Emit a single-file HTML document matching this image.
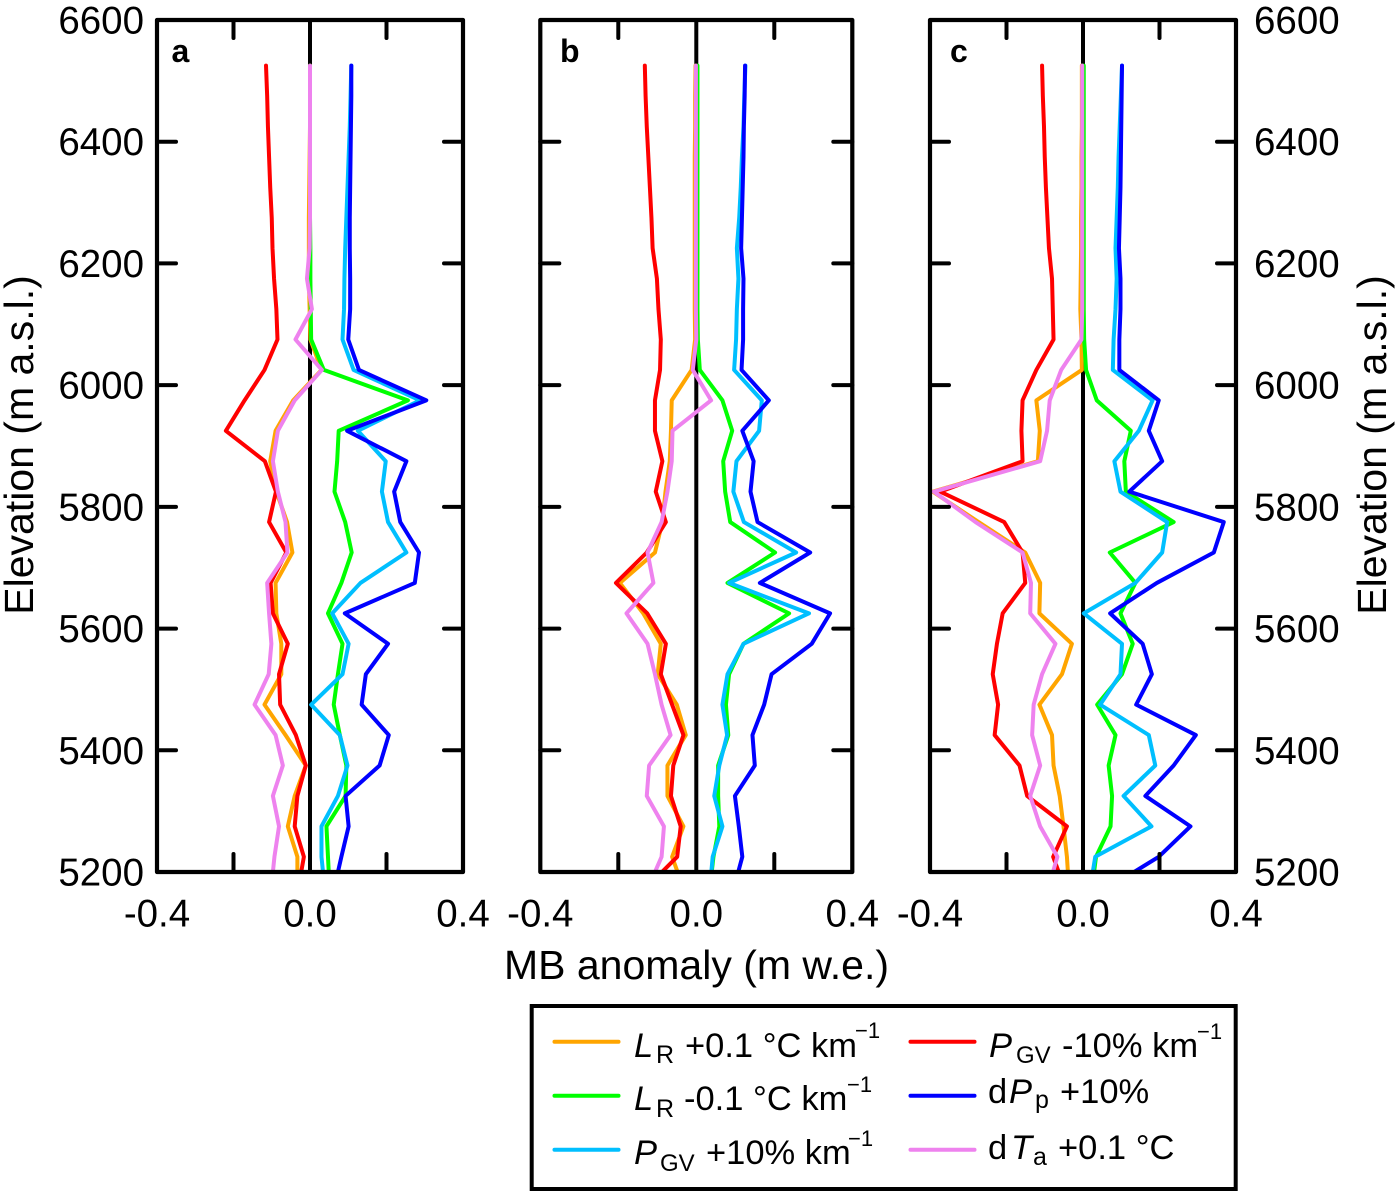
<!DOCTYPE html>
<html lang="en">
<head>
<meta charset="utf-8">
<title>MB anomaly by elevation</title>
<style>
html,body{margin:0;padding:0;background:#fff;}
svg{display:block;}
text{font-family:"Liberation Sans",Arial,sans-serif;fill:#000;}
</style>
</head>
<body>
<svg id="chart" xmlns="http://www.w3.org/2000/svg" width="1400" height="1197" viewBox="0 0 1400 1197">
  <rect x="0" y="0" width="1400" height="1197" fill="#fff"/>
  <g id="plots"></g>
  <text transform="translate(33,445) rotate(-90)" font-size="41" text-anchor="middle">Elevation (m a.s.l.)</text>
  <text transform="translate(1386,445) rotate(-90)" font-size="41" text-anchor="middle">Elevation (m a.s.l.)</text>
  <text x="696.5" y="979" font-size="41" text-anchor="middle">MB anomaly (m w.e.)</text>
  <g>
    <rect x="531.7" y="1006" width="704" height="183" fill="#fff" stroke="#000" stroke-width="4"/>
    <line x1="554.5" x2="618.5" y1="1041.7" y2="1041.7" stroke="#ffa500" stroke-width="4" stroke-linecap="round"/>
    <line x1="554.5" x2="618.5" y1="1095.7" y2="1095.7" stroke="#00ff00" stroke-width="4" stroke-linecap="round"/>
    <line x1="554.5" x2="618.5" y1="1149.7" y2="1149.7" stroke="#00bfff" stroke-width="4" stroke-linecap="round"/>
    <line x1="910.5" x2="974.5" y1="1041.7" y2="1041.7" stroke="#ff0000" stroke-width="4" stroke-linecap="round"/>
    <line x1="910.5" x2="974.5" y1="1095.7" y2="1095.7" stroke="#0000ff" stroke-width="4" stroke-linecap="round"/>
    <line x1="910.5" x2="974.5" y1="1149.7" y2="1149.7" stroke="#ee82ee" stroke-width="4" stroke-linecap="round"/>

    <text font-size="34.5"><tspan x="634" y="1057" font-style="italic">L</tspan><tspan x="656" y="1063" font-size="25">R</tspan><tspan x="685" y="1057">+0.1 °C km</tspan><tspan x="855" y="1038" font-size="22">−1</tspan></text>
    <text font-size="34.5"><tspan x="634" y="1110" font-style="italic">L</tspan><tspan x="656" y="1117" font-size="25">R</tspan><tspan x="684" y="1110">-0.1 °C km</tspan><tspan x="847" y="1092" font-size="22">−1</tspan></text>
    <text font-size="34.5"><tspan x="634" y="1164" font-style="italic">P</tspan><tspan x="660" y="1171" font-size="24">GV</tspan><tspan x="706" y="1164">+10% km</tspan><tspan x="848" y="1146" font-size="22">−1</tspan></text>
    <text font-size="34.5"><tspan x="989" y="1057" font-style="italic">P</tspan><tspan x="1016" y="1063" font-size="24">GV</tspan><tspan x="1062" y="1057">-10% km</tspan><tspan x="1197" y="1039" font-size="22">−1</tspan></text>
    <text font-size="34.5"><tspan x="988" y="1103">d</tspan><tspan x="1009" y="1103" font-style="italic">P</tspan><tspan x="1035" y="1108" font-size="25">p</tspan><tspan x="1060" y="1103">+10%</tspan></text>
    <text font-size="34.5"><tspan x="988" y="1159">d</tspan><tspan x="1011" y="1159" font-style="italic">T</tspan><tspan x="1033" y="1165" font-size="25">a</tspan><tspan x="1058" y="1159">+0.1 °C</tspan></text>
  </g>
</svg>
<script>
var elevations = [6525,6475,6425,6375,6325,6275,6225,6175,6125,6075,6025,5975,5925,5875,5825,5775,5725,5675,5625,5575,5525,5475,5425,5375,5325,5275,5225,5175];
var xTickValues = [-0.4,-0.2,0,0.2,0.4];
var xTickLabels = ["-0.4","","0.0","","0.4"];
var yTickValues = [6600,6400,6200,6000,5800,5600,5400,5200];
var yTickLabels = ["6600","6400","6200","6000","5800","5600","5400","5200"];
var panelLetters = ["a","b","c"];
var seriesNames = ["lr-plus","lr-minus","pgv-plus","pgv-minus","dpp-plus","dta-plus"];

var aLrPlus = [0,0,0,-.001,-.002,-.003,-.003,-.003,-.001,.001,.030,-.044,-.090,-.104,-.088,-.060,-.046,-.090,-.088,-.075,-.075,-.119,-.064,-.011,-.040,-.058,-.033,-.033];
var aLrMinus = [0,0,0,0,0,0,.001,.001,.002,.003,.036,.256,.075,.071,.064,.092,.109,.082,.047,.085,.073,.062,.078,.095,.093,.043,.047,.051];
var aPgvPlus = [.108,.106,.104,.101,.098,.095,.092,.090,.089,.085,.114,.287,.125,.198,.188,.204,.252,.132,.058,.101,.085,.003,.078,.098,.073,.030,.030,.038];
var aPgvMinus = [-.115,-.112,-.110,-.107,-.104,-.100,-.098,-.094,-.088,-.085,-.119,-.171,-.220,-.118,-.089,-.107,-.062,-.103,-.097,-.058,-.081,-.078,-.037,-.011,-.033,-.040,-.016,-.030];
var aDpp = [.108,.108,.107,.106,.105,.104,.104,.105,.105,.100,.128,.304,.097,.252,.220,.236,.285,.274,.091,.204,.146,.135,.206,.182,.093,.101,.082,.064];
var aDta = [0,0,0,0,0,0,-.001,-.008,.005,-.038,.031,-.040,-.084,-.097,-.084,-.064,-.059,-.112,-.107,-.101,-.108,-.145,-.090,-.071,-.097,-.081,-.093,-.101];

var bLrPlus = [-.002,-.003,-.003,-.004,-.004,-.004,-.004,-.004,-.004,-.003,-.012,-.063,-.065,-.068,-.079,-.087,-.106,-.196,-.136,-.091,-.099,-.050,-.027,-.074,-.074,-.033,-.062,-.034];
var bLrMinus = [.003,.003,.003,.003,.003,.003,.003,.003,.003,.004,.009,.067,.092,.069,.074,.087,.202,.080,.238,.121,.084,.076,.082,.056,.056,.059,.044,.035];
var bPgvPlus = [.126,.123,.121,.117,.114,.110,.104,.108,.104,.102,.097,.168,.161,.103,.095,.122,.256,.084,.289,.121,.080,.067,.079,.059,.046,.067,.042,.035];
var bPgvMinus = [-.132,-.130,-.127,-.123,-.119,-.115,-.112,-.101,-.097,-.091,-.093,-.106,-.106,-.087,-.104,-.078,-.127,-.206,-.126,-.078,-.091,-.062,-.033,-.059,-.065,-.040,-.049,-.127];
var bDpp = [.125,.124,.122,.121,.119,.117,.115,.121,.120,.120,.116,.186,.118,.147,.139,.157,.292,.163,.343,.296,.193,.174,.144,.150,.099,.109,.118,.097];
var bDta = [-.001,-.001,-.001,-.001,-.001,-.001,-.001,-.001,-.001,0,-.009,.038,-.061,-.063,-.074,-.089,-.125,-.110,-.179,-.125,-.106,-.089,-.066,-.121,-.127,-.083,-.089,-.123];

var cLrPlus = [-.003,-.003,-.003,-.004,-.004,-.005,-.005,-.006,-.007,-.004,-.003,-.122,-.113,-.118,-.393,-.273,-.151,-.112,-.114,-.029,-.055,-.114,-.081,-.077,-.061,-.051,-.042,-.037];
var cLrMinus = [.002,.002,.002,.002,.002,.002,.002,.002,.002,.003,.008,.036,.125,.108,.112,.237,.070,.137,.098,.130,.102,.037,.085,.067,.076,.072,.034,.024];
var cPgvPlus = [.102,.099,.096,.093,.091,.088,.085,.088,.085,.080,.078,.182,.146,.082,.098,.220,.207,.137,.002,.102,.098,.045,.172,.189,.106,.179,.032,.019];
var cPgvMinus = [-.107,-.105,-.102,-.100,-.097,-.093,-.089,-.081,-.079,-.077,-.122,-.158,-.161,-.158,-.373,-.206,-.158,-.151,-.210,-.225,-.236,-.222,-.231,-.166,-.146,-.042,-.078,-.049];
var cDpp = [.102,.101,.100,.099,.098,.096,.094,.098,.098,.095,.095,.198,.172,.207,.121,.368,.342,.193,.071,.156,.180,.139,.295,.237,.163,.281,.198,.069];
var cDta = [-.002,-.002,-.002,-.002,-.002,-.002,-.002,-.002,-.002,-.004,-.057,-.087,-.094,-.112,-.390,-.281,-.158,-.136,-.138,-.072,-.107,-.129,-.133,-.112,-.138,-.112,-.067,-.090];

var seriesColors = {"lr-plus":"#ffa500","lr-minus":"#00ff00","pgv-plus":"#00bfff","pgv-minus":"#ff0000","dpp-plus":"#0000ff","dta-plus":"#ee82ee"};
var SVG_NS = "http://www.w3.org/2000/svg";
var plotTop = 20, plotBottom = 872;
var panelSeries = [
  [aLrPlus,aLrMinus,aPgvPlus,aPgvMinus,aDpp,aDta],
  [bLrPlus,bLrMinus,bPgvPlus,bPgvMinus,bDpp,bDta],
  [cLrPlus,cLrMinus,cPgvPlus,cPgvMinus,cDpp,cDta]
];
var panelBoxes = [
  {left:157,right:463,letterX:171.5},
  {left:540.3,right:852.3,letterX:560},
  {left:930,right:1236,letterX:950}
];

function yScale(e){ return plotBottom - (e - 5200) / 1400 * (plotBottom - plotTop); }
function xScale(box, v){ return box.left + (v + 0.4) / 0.8 * (box.right - box.left); }

function make(parent, tag, attrs){
  var el = document.createElementNS(SVG_NS, tag);
  for (var k in attrs) el.setAttribute(k, attrs[k]);
  parent.appendChild(el);
  return el;
}

var plots = document.getElementById("plots");
var defs = make(plots, "defs", {});

panelBoxes.forEach(function(box, p){
  var letter = panelLetters[p];
  var clip = make(defs, "clipPath", {id:"clip-"+letter});
  make(clip, "rect", {x:box.left, y:plotTop, width:box.right-box.left, height:plotBottom-plotTop});

  var group = make(plots, "g", {});
  
  

  var zero = make(group, "line", {x1:xScale(box,0), x2:xScale(box,0), y1:plotTop, y2:plotBottom, stroke:"#000", "stroke-width":4});
  
  

  var lines = make(group, "g", {"clip-path":"url(#clip-"+letter+")"});
  
  
  panelSeries[p].forEach(function(values, s){
    var pts = values.map(function(v, i){ return xScale(box, v).toFixed(2) + "," + yScale(elevations[i]).toFixed(2); }).join(" ");
    var line = make(lines, "polyline", {points:pts, fill:"none", stroke:seriesColors[seriesNames[s]], "stroke-width":4, "stroke-linecap":"round", "stroke-linejoin":"round"});
    
    
  });

  var frame = make(group, "rect", {x:box.left, y:plotTop, width:box.right-box.left, height:plotBottom-plotTop, fill:"none", stroke:"#000", "stroke-width":4.2, "stroke-linejoin":"round"});
  
  

  yTickValues.forEach(function(t){
    if (t === 6600 || t === 5200) return;
    var yy = yScale(t);
    var tl = make(group, "line", {x1:box.left, x2:box.left+19, y1:yy, y2:yy, stroke:"#000", "stroke-width":4, "stroke-linecap":"round"});
    
    
    var tr = make(group, "line", {x1:box.right, x2:box.right-19, y1:yy, y2:yy, stroke:"#000", "stroke-width":4, "stroke-linecap":"round"});
    
    
  });

  xTickValues.forEach(function(t, i){
    var xx = xScale(box, t);
    if (t !== 0 && Math.abs(t) < 0.4) {
      var tt = make(group, "line", {x1:xx, x2:xx, y1:plotTop, y2:plotTop+18, stroke:"#000", "stroke-width":4, "stroke-linecap":"round"});
      
      
      var tb = make(group, "line", {x1:xx, x2:xx, y1:plotBottom, y2:plotBottom-18, stroke:"#000", "stroke-width":4, "stroke-linecap":"round"});
      
      
    }
    if (xTickLabels[i]) {
      var lab = make(group, "text", {x:xx, y:926.5, "font-size":38.5, "text-anchor":"middle"});
      lab.textContent = xTickLabels[i];
      
      
    }
  });

  var pl = make(group, "text", {x:box.letterX, y:62, "font-size":32, "font-weight":"bold"});
  pl.textContent = letter;
  
  
});

yTickValues.forEach(function(t, i){
  var yy = yScale(t) + 13.5;
  var left = make(plots, "text", {x:144, y:yy, "font-size":38.5, "text-anchor":"end"});
  left.textContent = yTickLabels[i];
  
  
  var right = make(plots, "text", {x:1254, y:yy, "font-size":38.5, "text-anchor":"start"});
  right.textContent = yTickLabels[i];
  
  
});
</script>
</body>
</html>
